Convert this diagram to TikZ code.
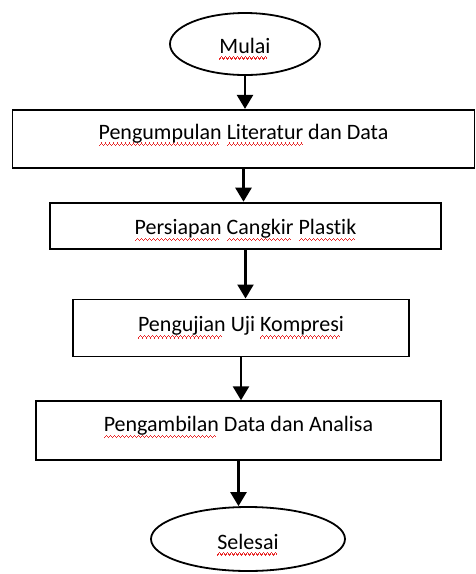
\documentclass[tikz,border=0pt]{standalone}
\usepackage{fontspec}
\setmainfont{Carlito}[Ligatures=NoCommon]
\usepackage{tikz}
\usetikzlibrary{arrows.meta,positioning,shapes.geometric}
\definecolor{ejaanRed}{RGB}{232, 40, 40}
\newlength{\lebarkata}
% garis bergelombang merah di bawah kata
\newcommand{\ejaan}[1]{\settowidth{\lebarkata}{#1}\rlap{\raisebox{0pt}[0pt][0pt]{\color{ejaanRed}\leaders\hbox{\rule[-6.6pt]{1pt}{1.3pt}\rule[-5.5pt]{1pt}{1.3pt}\rule[-4.4pt]{1pt}{1.3pt}\rule[-5.5pt]{1pt}{1.3pt}}\hskip\lebarkata}}#1}

\begin{document}
\begin{tikzpicture}[
  terminal/.style={
    draw,
    ellipse,
    line width=1.8pt,
    inner sep=0pt,
    text depth=5pt,
    font=\fontsize{22}{26}\selectfont
  },
  proses/.style={
    draw,
    rectangle,
    line width=1.8pt,
    inner sep=0pt,
    text depth=5pt,
    align=center,
    font=\fontsize{22}{26}\selectfont
  },
  panah/.style={-{Triangle[length=14pt,width=16pt]},line width=2.5pt}
]
  \useasboundingbox (0,0) rectangle (476pt,-574pt);
  \node[terminal,minimum width=150pt,minimum height=62pt,text height=23pt] (mulai) at (245pt,-44pt) {\ejaan{Mulai}};
  \node[proses,minimum width=462pt,minimum height=58pt,text height=6pt,below=33pt of mulai,xshift=-1.5pt] (literatur) {\ejaan{Pengumpulan} \ejaan{Literatur} dan Data};
  \node[proses,minimum width=391pt,minimum height=46pt,text height=23pt,below=33pt of literatur,xshift=2pt] (persiapan) {\ejaan{Persiapan} \ejaan{Cangkir} \ejaan{Plastik}};
  \node[proses,minimum width=336pt,minimum height=57pt,text height=13pt,below=49pt of persiapan,xshift=-4.5pt] (pengujian) {\ejaan{Pengujian} Uji \ejaan{Kompresi}};
  \node[proses,minimum width=405pt,minimum height=59pt,text height=7pt,below=43pt of pengujian,xshift=-2.5pt] (analisa) {\ejaan{Pengambilan} Data dan Analisa};
  \node[terminal,minimum width=194pt,minimum height=64pt,text height=25pt,below=45pt of analisa,xshift=9.5pt] (selesai) {\ejaan{Selesai}};
  \draw[panah] (mulai.south) -- (mulai.south |- literatur.north);
  \draw[panah] (literatur.south) -- (literatur.south |- persiapan.north);
  \draw[panah] (persiapan.south) -- (persiapan.south |- pengujian.north);
  \draw[panah] (pengujian.south) -- (pengujian.south |- analisa.north);
  \draw[panah] (analisa.south) -- (analisa.south |- selesai.north);
\end{tikzpicture}
\end{document}
